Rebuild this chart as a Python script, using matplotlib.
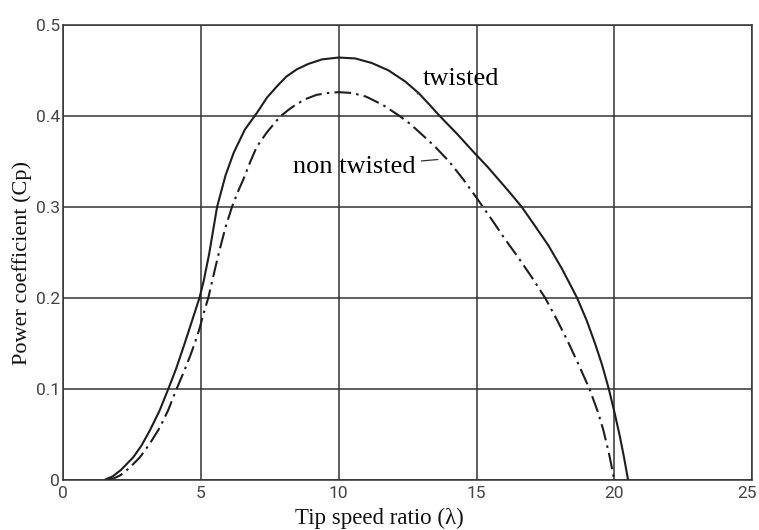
import numpy as np
import matplotlib
matplotlib.use("Agg")
import matplotlib.pyplot as plt
import matplotlib.transforms as mtransforms

# values
tsr_twisted = [1.5, 1.8, 2.1, 2.55, 2.85, 3.16, 3.5, 3.82, 4.1, 4.37, 4.65, 4.95,
               5.1, 5.3, 5.59, 5.9, 6.2, 6.6, 7.03, 7.4, 7.75, 8.1, 8.48, 8.9, 9.4,
               10.0, 10.6, 11.2, 11.8, 12.4, 12.9, 13.3, 13.66, 14.3, 14.9, 15.4,
               15.8, 16.2, 16.64, 17.1, 17.6, 18.1, 18.65, 19.0, 19.3, 19.55, 19.8,
               20.0, 20.2, 20.35, 20.5]
cp_twisted = [0.0, 0.004, 0.011, 0.025, 0.038, 0.055, 0.076, 0.1, 0.122, 0.146, 0.172, 0.2,
              0.218, 0.248, 0.3, 0.335, 0.36, 0.385, 0.403, 0.42, 0.432, 0.443, 0.451, 0.457, 0.462,
              0.464, 0.463, 0.458, 0.45, 0.438, 0.425, 0.412, 0.4, 0.38, 0.36, 0.344,
              0.33, 0.316, 0.3, 0.28, 0.258, 0.232, 0.2, 0.175, 0.15, 0.127, 0.1,
              0.075, 0.048, 0.025, 0.0]

tsr_nontwisted = [1.6, 1.85, 2.07, 2.4, 2.79, 3.15, 3.52, 3.82, 4.12, 4.4, 4.61, 4.8,
                  4.95, 5.1, 5.27, 5.5, 5.7, 5.9, 6.13, 6.35, 6.54, 6.8, 7.03, 7.4,
                  7.87, 8.2, 8.48, 8.85, 9.2, 9.6, 10.0, 10.5, 11.0, 11.6, 12.2, 12.6,
                  13.0, 13.5, 14.0, 14.5, 15.0, 15.3, 15.6, 16.0, 16.5, 17.0, 17.49,
                  17.9, 18.3, 18.7, 19.1, 19.4, 19.6, 19.8, 20.0]
cp_nontwisted = [0.0, 0.002, 0.005, 0.013, 0.025, 0.04, 0.058, 0.077, 0.1, 0.12, 0.136, 0.152,
                 0.166, 0.183, 0.2, 0.23, 0.255, 0.278, 0.3, 0.317, 0.33, 0.35, 0.366, 0.382,
                 0.399, 0.407, 0.413, 0.419, 0.423, 0.425, 0.426, 0.425, 0.421, 0.412, 0.4, 0.391,
                 0.38, 0.366, 0.35, 0.331, 0.31, 0.297, 0.284, 0.266, 0.245, 0.223, 0.2,
                 0.177, 0.153, 0.127, 0.1, 0.075, 0.055, 0.03, 0.0]

x_ticks = [0, 5, 10, 15, 20, 25]
y_ticks = [0, 0.1, 0.2, 0.3, 0.4, 0.5]
y_ticklabels = ["0", "0.1", "0.2", "0.3", "0.4", "0.5"]

serif = ["Liberation Serif", "DejaVu Serif"]
tick_font = ["Roboto", "DejaVu Sans"]

fig = plt.figure(figsize=(7.59, 5.30), dpi=100)
ax = fig.add_axes([0.083, 0.0943, 0.908, 0.859])

ax.plot(tsr_twisted, cp_twisted, color="#1e1e1e", lw=1.5)
ax.plot(tsr_nontwisted, cp_nontwisted, color="#1e1e1e", lw=1.5,
        linestyle=(0, (8, 2.5, 1.2, 2.5)))

ax.set_xlim(0, 25)
ax.set_ylim(0, 0.5)
ax.set_xticks(x_ticks)
ax.set_yticks(y_ticks)
ax.set_yticklabels(y_ticklabels)
ax.grid(True, color="#333333", lw=1.1)
ax.set_axisbelow(True)
for s in ax.spines.values():
    s.set_color("#333333")
    s.set_linewidth(1.1)
ax.tick_params(length=0, labelcolor="#444444", labelsize=12.5)
ax.tick_params(axis="x", pad=4)
ax.tick_params(axis="y", pad=2)
for lab in ax.get_xticklabels() + ax.get_yticklabels():
    lab.set_family(tick_font)
# last x label sits against the right edge, nudge it left a little
last = ax.get_xticklabels()[-1]
last.set_transform(last.get_transform() + mtransforms.ScaledTranslation(-5 / 100, 0, fig.dpi_scale_trans))

ax.set_xlabel("Tip speed ratio (λ)", family=serif, fontsize=16.5, color="#111111")
ax.set_ylabel("Power coefficient (Cp)", family=serif, fontsize=16, color="#111111")
ax.xaxis.set_label_coords(0.459, -0.06)
ax.yaxis.set_label_coords(-0.045, 0.477)

ax.annotate("twisted", xy=(12.85, 0.424), xytext=(13.06, 0.44),
            family=serif, fontsize=19, va="center", ha="left",
            arrowprops=dict(arrowstyle="-", color="#333333", lw=0.9, shrinkA=1, shrinkB=0))
ax.annotate("non twisted", xy=(13.6, 0.352), xytext=(8.35, 0.344),
            family=serif, fontsize=19, va="center", ha="left",
            arrowprops=dict(arrowstyle="-", color="#333333", lw=0.9, shrinkA=2, shrinkB=0))

fig.savefig("out.png", dpi=100)
